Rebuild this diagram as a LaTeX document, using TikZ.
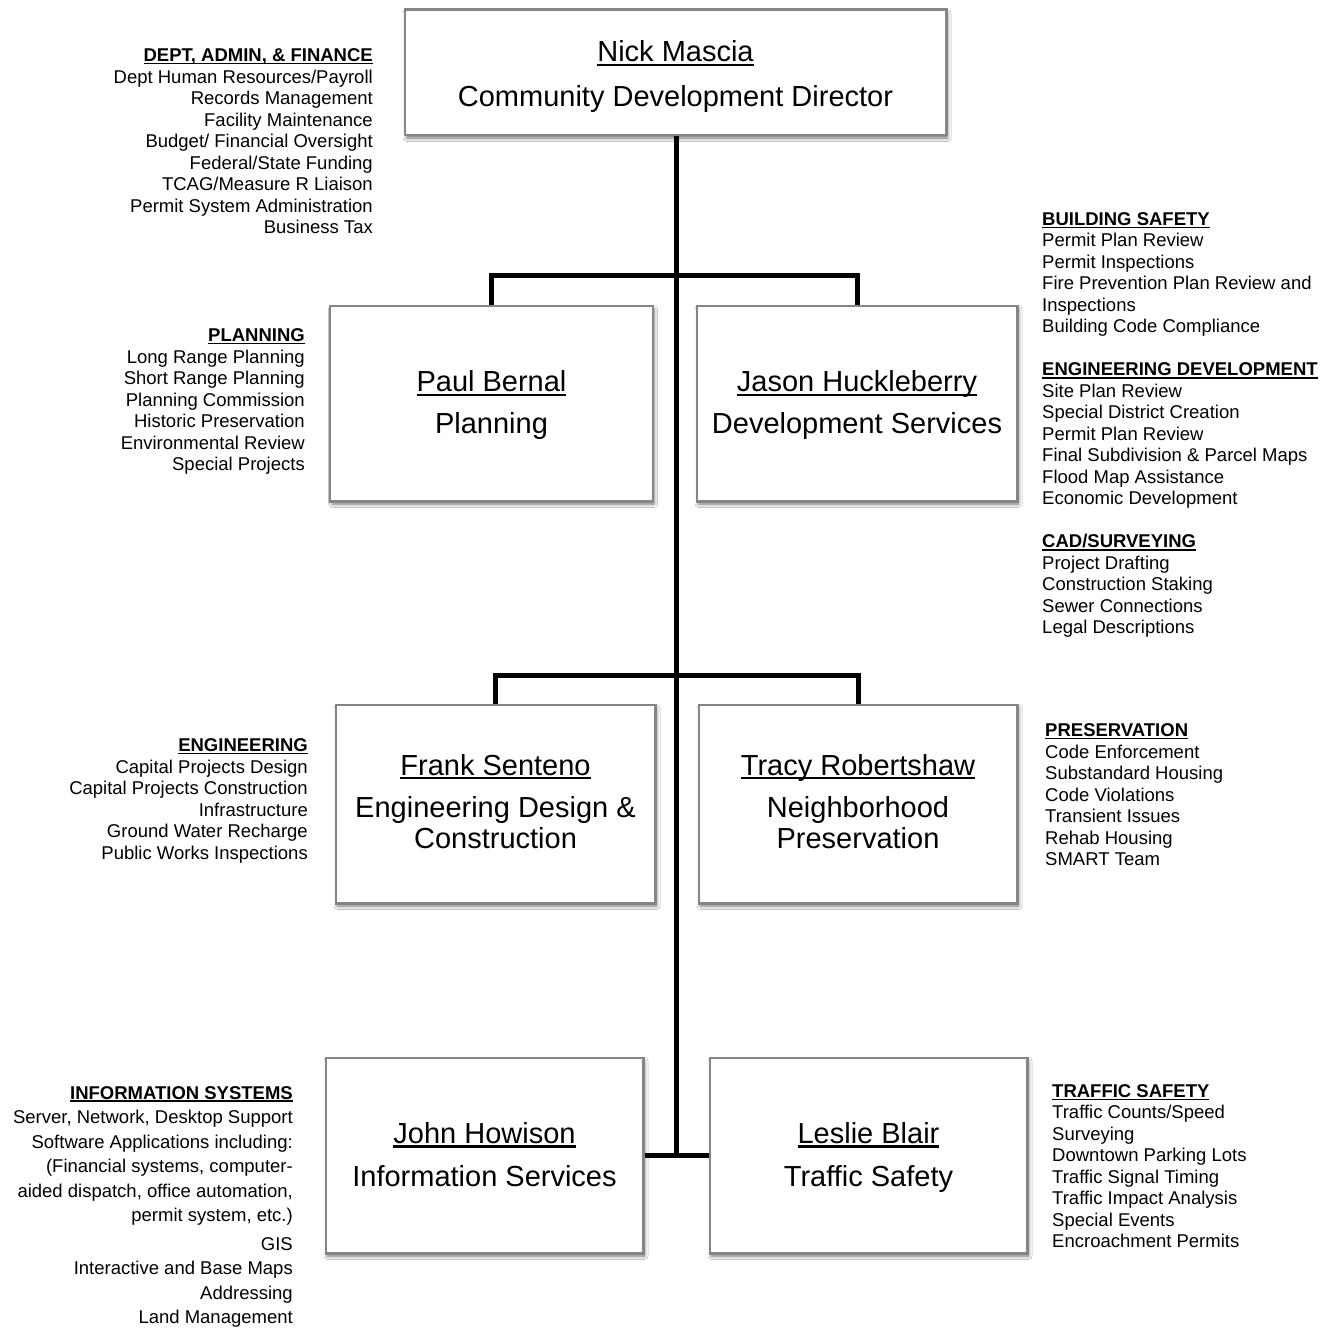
\documentclass[tikz,border=0pt]{standalone}
\usepackage{fontspec}
\setmainfont{Liberation Sans}
\usetikzlibrary{shadows.blur}

\definecolor{boxgray}{HTML}{858585}

% underline drawn as a rule a little below the baseline
\newcommand\ulx[1]{\setbox0=\hbox{#1}\rlap{\rule[-0.14em]{\wd0}{0.075em}}\box0}

\tikzset{
  orgbox/.style={draw=boxgray, line width=1.5pt, fill=white, inner sep=0pt,
    blur shadow={shadow xshift=1.5pt, shadow yshift=-3pt,
                 shadow blur radius=3.5pt, shadow opacity=55}},
  boxtext/.style={inner sep=0pt, anchor=base},
  sidetext/.style={inner sep=0pt, font=\fontsize{18.5}{21.5}\selectfont},
  leftcol/.style={sidetext, anchor=base east},
  rightcol/.style={sidetext, anchor=base west},
  conn/.style={line width=5pt, black},
}

\begin{document}
\begin{tikzpicture}[x=1pt, y=-1pt]
  \useasboundingbox[fill=white] (0,0) rectangle (1335,1332);

  % junction points on the trunk
  \coordinate (j1) at (676,275);
  \coordinate (j2) at (676,675);
  \coordinate (j3) at (676,1155.5);

  % boxes (empty shapes, text is set separately)
  \node[orgbox, minimum width=541pt, minimum height=125pt] (dir)    at (675.5,72.5)  {};
  \node[orgbox, minimum width=322pt, minimum height=195pt] (paul)   at (491.5,403.5) {};
  \node[orgbox, minimum width=320pt, minimum height=195pt] (jason)  at (857,403.5)   {};
  \node[orgbox, minimum width=319pt, minimum height=198pt] (frank)  at (495.5,804)   {};
  \node[orgbox, minimum width=318pt, minimum height=198pt] (tracy)  at (858,804)     {};
  \node[orgbox, minimum width=317pt, minimum height=195pt] (john)   at (484.5,1155.5){};
  \node[orgbox, minimum width=317pt, minimum height=195pt] (leslie) at (868.5,1155.5){};

  % connectors
  \draw[conn] (j1 |- dir.south) -- (j3);
  \draw[conn] (paul.north) |- (j1) -| (jason.north);
  \draw[conn] (frank.north) |- (j2) -| (tracy.north);
  \draw[conn] (john.east) -- (leslie.west);

  % redraw box outlines over the connector ends
  \foreach \b in {dir,paul,jason,frank,tracy,john,leslie}
    \draw[boxgray, line width=1.5pt] (\b.north west) rectangle (\b.south east);

  % box texts
  \node[boxtext] (dirT) at (675.5,61.7) {\fontsize{29}{45}\selectfont
    \begin{tabular}[t]{@{}c@{}}\ulx{Nick Mascia}\\Community Development Director\end{tabular}};
  \node[boxtext] (paulT) at (491.5,391.7) {\fontsize{29}{41.6}\selectfont
    \begin{tabular}[t]{@{}c@{}}\ulx{Paul Bernal}\\Planning\end{tabular}};
  \node[boxtext] (jasonT) at (857,391.7) {\fontsize{29}{41.6}\selectfont
    \begin{tabular}[t]{@{}c@{}}\ulx{Jason Huckleberry}\\Development Services\end{tabular}};
  \node[boxtext] (frankT) at (495.5,775) {\fontsize{29}{31}\selectfont
    \begin{tabular}[t]{@{}c@{}}\ulx{Frank Senteno}\\[11.3pt]Engineering Design \&\\Construction\end{tabular}};
  \node[boxtext] (tracyT) at (858,775) {\fontsize{29}{31}\selectfont
    \begin{tabular}[t]{@{}c@{}}\ulx{Tracy Robertshaw}\\[11.3pt]Neighborhood\\Preservation\end{tabular}};
  \node[boxtext] (johnT) at (484.5,1143.5) {\fontsize{29}{42.5}\selectfont
    \begin{tabular}[t]{@{}c@{}}\ulx{John Howison}\\Information Services\end{tabular}};
  \node[boxtext] (leslieT) at (868.5,1143.5) {\fontsize{29}{42.5}\selectfont
    \begin{tabular}[t]{@{}c@{}}\ulx{Leslie Blair}\\Traffic Safety\end{tabular}};

  % duty lists, left column
  \node[leftcol] (admin) at (373,61.7) {\begin{tabular}[t]{@{}r@{}}
    \ulx{\textbf{DEPT, ADMIN, \& FINANCE}}\\
    Dept Human Resources/Payroll\\
    Records Management\\
    Facility Maintenance\\
    Budget/ Financial Oversight\\
    Federal/State Funding\\
    TCAG/Measure R Liaison\\
    Permit System Administration\\
    Business Tax\end{tabular}};

  \node[leftcol] (planning) at (305,341.7) {\begin{tabular}[t]{@{}r@{}}
    \ulx{\textbf{PLANNING}}\\
    Long Range Planning\\
    Short Range Planning\\
    Planning Commission\\
    Historic Preservation\\
    Environmental Review\\
    Special Projects\end{tabular}};

  \node[leftcol] (engineering) at (308,751.7) {\begin{tabular}[t]{@{}r@{}}
    \ulx{\textbf{ENGINEERING}}\\
    Capital Projects Design\\
    Capital Projects Construction\\
    Infrastructure\\
    Ground Water Recharge\\
    Public Works Inspections\end{tabular}};

  \node[leftcol] (infosys) at (293,1099) {\fontsize{18.5}{24.5}\selectfont
    \begin{tabular}[t]{@{}r@{}}
    \ulx{\textbf{INFORMATION SYSTEMS}}\\
    Server, Network, Desktop Support\\
    Software Applications including:\\
    (Financial systems, computer-\\
    aided dispatch, office automation,\\
    permit system, etc.)\\[4pt]
    GIS\\
    Interactive and Base Maps\\
    Addressing\\
    Land Management\end{tabular}};

  % duty lists, right column
  \node[rightcol] (devserv) at (1042,225.5) {\begin{tabular}[t]{@{}l@{}}
    \ulx{\textbf{BUILDING SAFETY}}\\
    Permit Plan Review\\
    Permit Inspections\\
    Fire Prevention Plan Review and\\
    Inspections\\
    Building Code Compliance\\
    \\
    \ulx{\textbf{ENGINEERING DEVELOPMENT}}\\
    Site Plan Review\\
    Special District Creation\\
    Permit Plan Review\\
    Final Subdivision \& Parcel Maps\\
    Flood Map Assistance\\
    Economic Development\\
    \\
    \ulx{\textbf{CAD/SURVEYING}}\\
    Project Drafting\\
    Construction Staking\\
    Sewer Connections\\
    Legal Descriptions\end{tabular}};

  \node[rightcol] (preserv) at (1045,736.7) {\begin{tabular}[t]{@{}l@{}}
    \ulx{\textbf{PRESERVATION}}\\
    Code Enforcement\\
    Substandard Housing\\
    Code Violations\\
    Transient Issues\\
    Rehab Housing\\
    SMART Team\end{tabular}};

  \node[rightcol] (traffic) at (1052,1097.3) {\begin{tabular}[t]{@{}l@{}}
    \ulx{\textbf{TRAFFIC SAFETY}}\\
    Traffic Counts/Speed\\
    Surveying\\
    Downtown Parking Lots\\
    Traffic Signal Timing\\
    Traffic Impact Analysis\\
    Special Events\\
    Encroachment Permits\end{tabular}};
\end{tikzpicture}
\end{document}
